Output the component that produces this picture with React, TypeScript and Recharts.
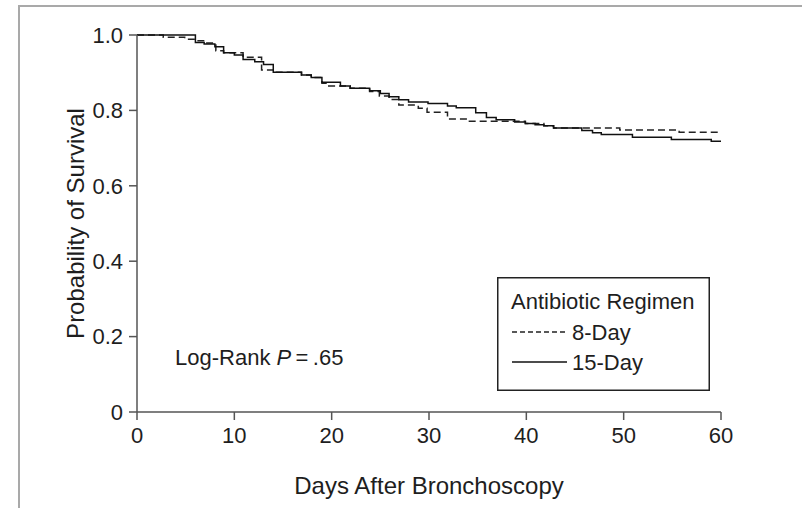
import { LineChart, Line, XAxis, YAxis } from 'recharts';

// Kaplan-Meier steps (day, survival)
const days15 = [0, 6.0, 6.9, 8.0, 8.9, 10.0, 10.9, 12.1, 13.0, 14.0, 16.9, 17.9, 19.0, 20.9, 21.9, 23.9, 25.0, 25.9, 26.9, 27.9, 29.9, 31.9, 32.8, 34.8, 35.9, 36.9, 38.8, 39.9, 40.9, 41.8, 42.8, 45.7, 46.8, 47.7, 50.9, 54.9, 59.0, 60];
const surv15 = [1.0, 0.98, 0.976, 0.969, 0.953, 0.947, 0.935, 0.929, 0.922, 0.901, 0.894, 0.887, 0.875, 0.865, 0.859, 0.852, 0.845, 0.836, 0.828, 0.822, 0.818, 0.812, 0.807, 0.794, 0.781, 0.775, 0.769, 0.765, 0.762, 0.759, 0.753, 0.747, 0.741, 0.736, 0.729, 0.723, 0.718, 0.718];

const days8 = [0, 2.7, 4.9, 6.0, 7.0, 8.1, 8.9, 10.9, 12.8, 14.0, 16.9, 17.9, 19.0, 19.7, 21.9, 23.9, 24.9, 25.9, 26.9, 28.9, 29.8, 31.9, 33.9, 39.9, 41.8, 42.8, 49.6, 55.7, 60];
const surv8 = [1.0, 0.994, 0.989, 0.985, 0.979, 0.958, 0.953, 0.941, 0.907, 0.901, 0.894, 0.887, 0.872, 0.865, 0.859, 0.85, 0.838, 0.829, 0.814, 0.806, 0.795, 0.777, 0.771, 0.765, 0.759, 0.753, 0.748, 0.742, 0.742];

const xTicks = [0, 10, 20, 30, 40, 50, 60];
const yTicks = [0, 0.2, 0.4, 0.6, 0.8, 1.0];

const FONT = '"Liberation Sans", Arial, sans-serif';
const INK = '#1e1e1e';
const AXIS = '#555';

const data15 = days15.map((d, i) => ({ day: d, s: surv15[i] }));
const data8 = days8.map((d, i) => ({ day: d, s: surv8[i] }));

export default function App() {
  return (
    <div
      style={{
        position: 'fixed',
        left: 0,
        top: 0,
        width: 802,
        height: 508,
        overflow: 'hidden',
        background: '#fff',
        fontFamily: FONT,
        color: INK,
      }}
    >
      {/* figure frame, cropped at right and bottom */}
      <div style={{ position: 'absolute', left: 18, top: 5, width: 900, height: 600, border: '2px solid #a9a9a9' }} />

      <LineChart width={802} height={508} margin={{ top: 35, right: 81, bottom: 0, left: 20 }}>
        <XAxis
          type="number"
          dataKey="day"
          domain={[0, 60]}
          ticks={xTicks}
          height={96}
          tickSize={8}
          tickMargin={7}
          stroke={AXIS}
          strokeWidth={1.5}
          tick={{ fill: INK, fontSize: 22, fontFamily: FONT }}
          label={{ value: 'Days After Bronchoscopy', position: 'insideBottom', offset: 14, fill: INK, fontSize: 24, fontFamily: FONT }}
        />
        <YAxis
          type="number"
          domain={[0, 1]}
          ticks={yTicks}
          width={117}
          tickSize={8}
          tickMargin={6}
          stroke={AXIS}
          strokeWidth={1.5}
          tick={{ fill: INK, fontSize: 22, fontFamily: FONT }}
          tickFormatter={(v: number) => (v === 0 ? '0' : v.toFixed(1))}
          label={{ value: 'Probability of Survival', angle: -90, position: 'insideLeft', offset: 55, fill: INK, fontSize: 24, fontFamily: FONT, style: { textAnchor: 'middle' } }}
        />
        <Line
          data={data8}
          dataKey="s"
          type="stepAfter"
          stroke="#222"
          strokeWidth={1.5}
          strokeDasharray="7 4"
          dot={false}
          isAnimationActive={false}
        />
        <Line
          data={data15}
          dataKey="s"
          type="stepAfter"
          stroke="#111"
          strokeWidth={1.5}
          dot={false}
          isAnimationActive={false}
        />
      </LineChart>

      <div style={{ position: 'absolute', left: 175, top: 345, fontSize: 22, whiteSpace: 'nowrap' }}>
        Log-Rank <i>P</i>{'\u2009=\u2009'}.65
      </div>

      <svg style={{ position: 'absolute', left: 497, top: 277 }} width={213} height={114}>
        <rect x={0.75} y={0.75} width={211.5} height={112.5} fill="#fff" stroke="#222" strokeWidth={1.5} />
        <text x={14} y={32} fontSize={22} fontFamily={FONT} fill={INK}>Antibiotic Regimen</text>
        <line x1={15} x2={70} y1={55} y2={55} stroke="#222" strokeWidth={1.5} strokeDasharray="5 3" />
        <text x={75} y={63} fontSize={22} fontFamily={FONT} fill={INK}>8-Day</text>
        <line x1={15} x2={70} y1={85} y2={85} stroke="#111" strokeWidth={1.5} />
        <text x={75} y={93} fontSize={22} fontFamily={FONT} fill={INK}>15-Day</text>
      </svg>
    </div>
  );
}
